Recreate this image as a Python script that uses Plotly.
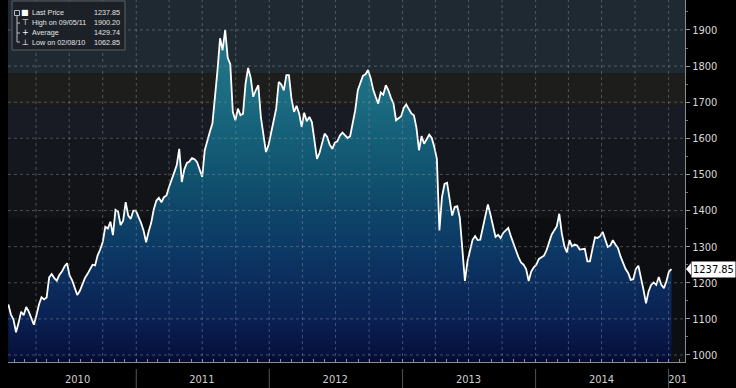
import plotly.graph_objects as go
import pandas as pd

W, H = 736, 388
ML, MR, MT, MB = 8, 51, 0, 26
PW, PH = W - ML - MR, H - MT - MB


def px(x):
    return (x - ML) / PW


def py(y):
    return (H - MB - y) / PH


# ---- weekly gold price readings (USD/oz) ----
gold_2010 = [1140, 1112, 1098, 1063, 1089, 1120, 1110, 1133, 1120, 1103, 1084, 1110,
             1140, 1160, 1154, 1159, 1215, 1224, 1213, 1206, 1222, 1231, 1245, 1254,
             1220, 1207, 1187, 1166, 1177, 1194, 1213, 1224, 1238, 1250, 1248, 1276,
             1292, 1313, 1355, 1350, 1369, 1332, 1402, 1397, 1360, 1372, 1423, 1386,
             1377, 1400, 1400]
gold_2011 = [1384, 1366, 1345, 1312, 1342, 1366, 1403, 1427, 1435, 1423, 1437, 1442,
             1465, 1488, 1505, 1525, 1571, 1479, 1514, 1532, 1536, 1545, 1542, 1534,
             1514, 1493, 1567, 1597, 1618, 1641, 1710, 1789, 1877, 1844, 1900, 1823,
             1805, 1673, 1650, 1682, 1664, 1668, 1752, 1795, 1768, 1715, 1733, 1747,
             1659, 1606, 1562, 1581]
gold_2012 = [1616, 1645, 1682, 1756, 1749, 1733, 1775, 1775, 1710, 1673, 1690, 1669,
             1632, 1671, 1647, 1659, 1645, 1594, 1543, 1560, 1588, 1613, 1604, 1582,
             1571, 1588, 1592, 1608, 1616, 1608, 1601, 1606, 1641, 1678, 1733, 1756,
             1773, 1777, 1789, 1768, 1736, 1715, 1696, 1727, 1721, 1747, 1733, 1712,
             1696, 1650, 1655, 1661]
gold_2013 = [1684, 1694, 1681, 1669, 1664, 1629, 1567, 1606, 1585, 1599, 1610, 1601,
             1576, 1543, 1345, 1437, 1474, 1477, 1428, 1386, 1410, 1412, 1380, 1301,
             1205, 1259, 1292, 1319, 1329, 1318, 1319, 1355, 1389, 1417, 1389, 1356,
             1327, 1333, 1324, 1338, 1345, 1352, 1329, 1312, 1290, 1271, 1256, 1250,
             1238, 1205, 1231, 1243]
gold_2014 = [1250, 1266, 1271, 1275, 1290, 1315, 1333, 1345, 1356, 1391, 1336, 1301,
             1284, 1318, 1301, 1306, 1303, 1292, 1292, 1294, 1259, 1259, 1294, 1326,
             1324, 1329, 1341, 1321, 1299, 1303, 1318, 1306, 1296, 1273, 1253, 1238,
             1227, 1208, 1210, 1238, 1247, 1216, 1181, 1143, 1176, 1194, 1201, 1194,
             1216, 1194, 1185, 1204]
gold_2015 = [1231, 1237.85]

prices = gold_2010 + gold_2011 + gold_2012 + gold_2013 + gold_2014 + gold_2015
dates = pd.date_range("2010-01-15", periods=len(prices), freq="7D")

last_price = 1237.85
legend_rows = [("Last Price", "1237.85"), ("High on 09/05/11", "1900.20"),
               ("Average", "1429.74"), ("Low on 02/08/10", "1062.85")]
legend_icons = ["■", "⊤", "+", "⊥"]

y_ticks = list(range(1000, 2000, 100))
year_labels = ["2010", "2011", "2012", "2013", "2014", "201"]
year_label_dates = ["2010-07-24", "2011-06-30", "2012-06-30", "2013-07-01", "2014-07-01", "2015-01-26"]
year_starts = ["2011-01-01", "2012-01-01", "2013-01-01", "2014-01-01", "2015-01-01"]
quarter_lines = pd.date_range("2010-04-01", "2015-01-01", freq="QS")

Y_RANGE = [980.6, 1983]
X_RANGE = ["2010-01-14", "2015-02-15"]

bands = [(1780, 1983, "#1f2931"), (1690, 1780, "#1d1d1b"), (1600, 1690, "#181b23"),
         (1500, 1600, "#15171e"), (1380, 1500, "#121418"), (980, 1380, "#0d0e11")]

fill_scale = [[0.0, "#040a2e"], [0.02, "#06103c"], [0.13, "#0a2153"], [0.24, "#0b2d5d"],
              [0.34, "#0c3965"], [0.45, "#0e4569"], [0.56, "#11536f"], [0.67, "#155f78"],
              [0.77, "#1a6a80"], [1.0, "#24788a"]]

AXFONT = "Liberation Sans Narrow, DejaVu Sans Condensed, Arial Narrow, sans-serif"
LEGFONT = "Liberation Sans, Arial, sans-serif"

fig = go.Figure()
fig.add_trace(go.Scatter(
    x=dates, y=prices, mode="lines", line=dict(width=0, color="rgba(0,0,0,0)"),
    fill="tozeroy",
    fillgradient=dict(type="vertical", colorscale=fill_scale, start=980, stop=1910),
    hoverinfo="skip", showlegend=False))
fig.add_trace(go.Scatter(
    x=dates, y=prices, mode="lines", line=dict(width=1.8, color="#ffffff"),
    showlegend=False))

shapes = []
for lo, hi, col in bands:
    shapes.append(dict(type="rect", xref="paper", yref="y", x0=0, x1=1, y0=lo, y1=hi,
                       fillcolor=col, line=dict(width=0), layer="below"))
grid_col = "rgba(140,150,160,0.45)"
for v in y_ticks:
    shapes.append(dict(type="line", xref="paper", yref="y", x0=0, x1=1, y0=v, y1=v,
                       line=dict(color=grid_col, width=1, dash="dot"), layer="above"))
for d in quarter_lines:
    shapes.append(dict(type="line", xref="x", yref="paper", x0=d, x1=d, y0=0, y1=1,
                       line=dict(color=grid_col, width=1, dash="dot"), layer="above"))
for d in year_starts:
    shapes.append(dict(type="line", xref="x", yref="paper", x0=d, x1=d,
                       y0=py(369), y1=py(388), line=dict(color="#555555", width=1)))

# legend box
shapes.append(dict(type="rect", xref="paper", yref="paper", x0=px(12), x1=px(125),
                   y0=py(50), y1=py(1), fillcolor="rgba(28,33,38,0.92)",
                   line=dict(color="#5d636a", width=1), layer="above"))
shapes.append(dict(type="rect", xref="paper", yref="paper", x0=px(14.5), x1=px(19.5),
                   y0=py(15.5), y1=py(10.5), line=dict(color="#bbbbbb", width=1), layer="above"))
shapes.append(dict(type="line", xref="paper", yref="paper", x0=px(17), x1=px(17),
                   y0=py(16), y1=py(42), line=dict(color="#bbbbbb", width=1), layer="above"))
for ry in (23, 33, 42):
    shapes.append(dict(type="line", xref="paper", yref="paper", x0=px(17), x1=px(20),
                       y0=py(ry), y1=py(ry), line=dict(color="#bbbbbb", width=1), layer="above"))

# last price pointer
ly = (last_price - Y_RANGE[0]) / (Y_RANGE[1] - Y_RANGE[0])
lpx = 1 + 1 / PW
shapes.append(dict(type="path", xref="paper", yref="paper",
                   path=f"M {lpx} {ly} L {lpx + 5 / PW} {ly + 6 / PH} L {lpx + 5 / PW} {ly - 6 / PH} Z",
                   fillcolor="#ffffff", line=dict(width=0)))

annotations = []
for i, ((label, val), icon) in enumerate(zip(legend_rows, legend_icons)):
    yy = py(13 + i * 9.8)
    annotations.append(dict(xref="paper", yref="paper", x=px(25), y=yy, text=icon,
                            showarrow=False, xanchor="center", yanchor="middle",
                            font=dict(size=8, color="#ffffff", family="DejaVu Sans")))
    annotations.append(dict(xref="paper", yref="paper", x=px(30), y=yy, text=label,
                            showarrow=False, xanchor="left", yanchor="middle",
                            font=dict(size=7.2, color="#e4e4e4", family=LEGFONT)))
    annotations.append(dict(xref="paper", yref="paper", x=px(122), y=yy, text=val,
                            showarrow=False, xanchor="right", yanchor="middle",
                            font=dict(size=7.2, color="#e4e4e4", family=LEGFONT)))

annotations.append(dict(xref="paper", yref="y", x=1, y=last_price, xshift=6,
                        text="1237.85", showarrow=False, xanchor="left", yanchor="middle",
                        bgcolor="#ffffff", borderpad=1,
                        font=dict(size=11, color="#000000", family=AXFONT)))

fig.update_layout(
    width=W, height=H, margin=dict(l=ML, r=MR, t=MT, b=MB),
    paper_bgcolor="#000000", plot_bgcolor="#0d0e11",
    shapes=shapes, annotations=annotations, showlegend=False,
    xaxis=dict(type="date", range=X_RANGE, showgrid=False, zeroline=False,
               showline=True, linecolor="#8c8c8c", linewidth=1,
               tickvals=year_label_dates, ticktext=year_labels, ticks="",
               ticklabelstandoff=7,
               tickfont=dict(size=11, color="#cfcfcf", family=AXFONT),
               minor=dict(dtick="M1", tick0="2010-01-01", ticks="inside", ticklen=3,
                          tickcolor="#8c8c8c", showgrid=False)),
    yaxis=dict(side="right", range=Y_RANGE, showgrid=False, zeroline=False,
               showline=True, linecolor="#8c8c8c", linewidth=1,
               tickvals=y_ticks, ticks="outside", ticklen=4, tickcolor="#9a9a9a",
               tickfont=dict(size=11, color="#d8d8d8", family=AXFONT),
               minor=dict(dtick=50, tick0=1000, ticks="outside", ticklen=2,
                          tickcolor="#777777", showgrid=False)),
)

fig.write_html("out.html", config={"displayModeBar": False},
               post_script="document.body.style.margin='0';document.body.style.background='#000';")
